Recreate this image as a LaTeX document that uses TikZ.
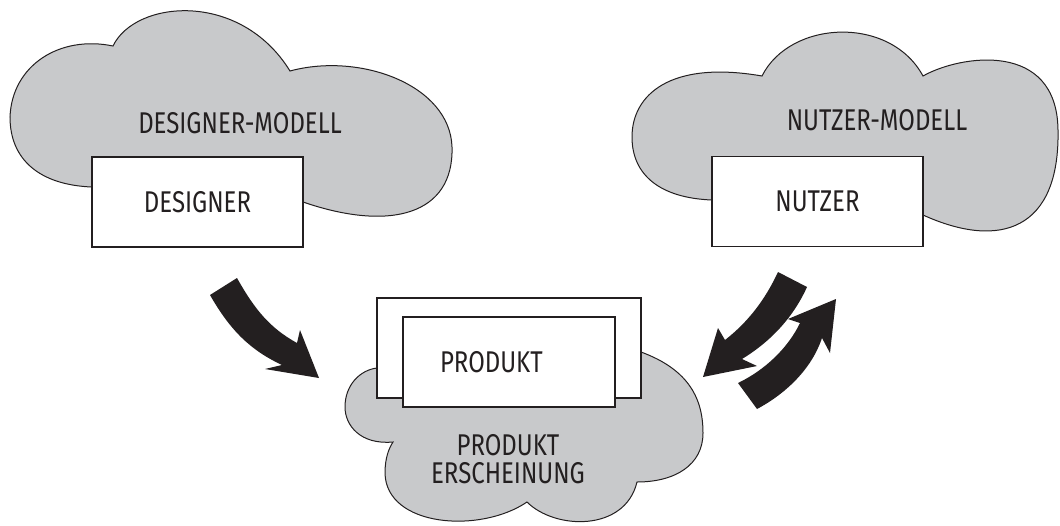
\documentclass[tikz,border=0pt]{standalone}
\usepackage{fontspec}
\setmainfont[FakeStretch=0.8]{Fira Sans}
\usepackage{tikz}
\definecolor{wolke}{RGB}{200,201,203}
\definecolor{tinte}{RGB}{35,31,32}
\tikzstyle{cloudfill}=[fill=wolke, draw=tinte, line width=.5pt]
\tikzstyle{boxnode}=[rectangle, draw=tinte, fill=white, line width=.9pt,
                    minimum width=105.5pt, minimum height=45pt, inner sep=0pt,
                    text=tinte, font=\fontsize{15}{14}\selectfont]
\tikzstyle{lbl}=[text=tinte, align=center, font=\fontsize{15}{14}\selectfont]
\tikzstyle{bigarrow}=[fill=tinte, draw=none]

\begin{document}
\begin{tikzpicture}[x=.5pt, y=-.5pt]
    \useasboundingbox (0,0) rectangle (1060,525);
    % clouds
    \draw[cloudfill] (92,187) .. controls (40,185) and (10,160) .. (10,117)
      .. controls (12,65) and (60,35) .. (113,46)
      .. controls (135,0) and (240,-10) .. (290,71)
      .. controls (360,52) and (450,85) .. (452,147)
      .. controls (454,215) and (390,232) .. (303,202) -- cycle;
    \draw[cloudfill] (712,200) .. controls (660,198) and (632,175) .. (632,137)
      .. controls (632,95) and (670,60) .. (762,76)
      .. controls (790,20) and (890,15) .. (923,76)
      .. controls (960,55) and (1057,40) .. (1058,130)
      .. controls (1060,230) and (1000,250) .. (923,215) -- cycle;
    \draw[cloudfill] (641,352) .. controls (690,370) and (703,400) .. (703,433)
      .. controls (703,465) and (675,482) .. (637,482)
      .. controls (625,532) and (555,530) .. (527,502)
      .. controls (480,534) and (386,527) .. (385,473)
      .. controls (385,458) and (389,448) .. (393,442)
      .. controls (360,445) and (345,425) .. (345,407)
      .. controls (345,385) and (360,370) .. (377,368) -- cycle;
    \node[lbl] (dmodell) at (240,123) {DESIGNER-MODELL};
    \node[lbl] (nmodell) at (877,120) {NUTZER-MODELL};
    \node[lbl] (erscheinung) at (508,459) {PRODUKT\\ERSCHEINUNG};
    % boxes
    \node[boxnode] (designer) at (197.5,202) {DESIGNER};
    \node[boxnode] (nutzer) at (817.5,201.5) {NUTZER};
    \node[boxnode, minimum width=132pt, minimum height=50pt] (huelle) at (509,348) {};
    \node[boxnode, text width=69pt, inner xsep=18.5pt, align=left] (produkt) at (509,362) {PRODUKT};
    % arrows
    \fill[bigarrow] (210,295) -- (237,278) .. controls (255,310) and (270,328) .. (297,343)
      -- (300,330) -- (319,378) -- (265,369) -- (282,365)
      .. controls (250,350) and (230,330) .. (210,295) -- cycle;
    \fill[bigarrow] (778,272) -- (807,287) .. controls (793,318) and (770,342) .. (742,359)
      -- (757,366) -- (703,377) -- (718,328) -- (725,340)
      .. controls (748,322) and (765,300) .. (778,272) -- cycle;
    \fill[bigarrow] (738,383) .. controls (765,370) and (788,348) .. (800,323)
      -- (788,319) -- (836,299) -- (830,353) -- (822,338)
      .. controls (812,368) and (787,393) .. (757,409) -- cycle;
\end{tikzpicture}
\end{document}
